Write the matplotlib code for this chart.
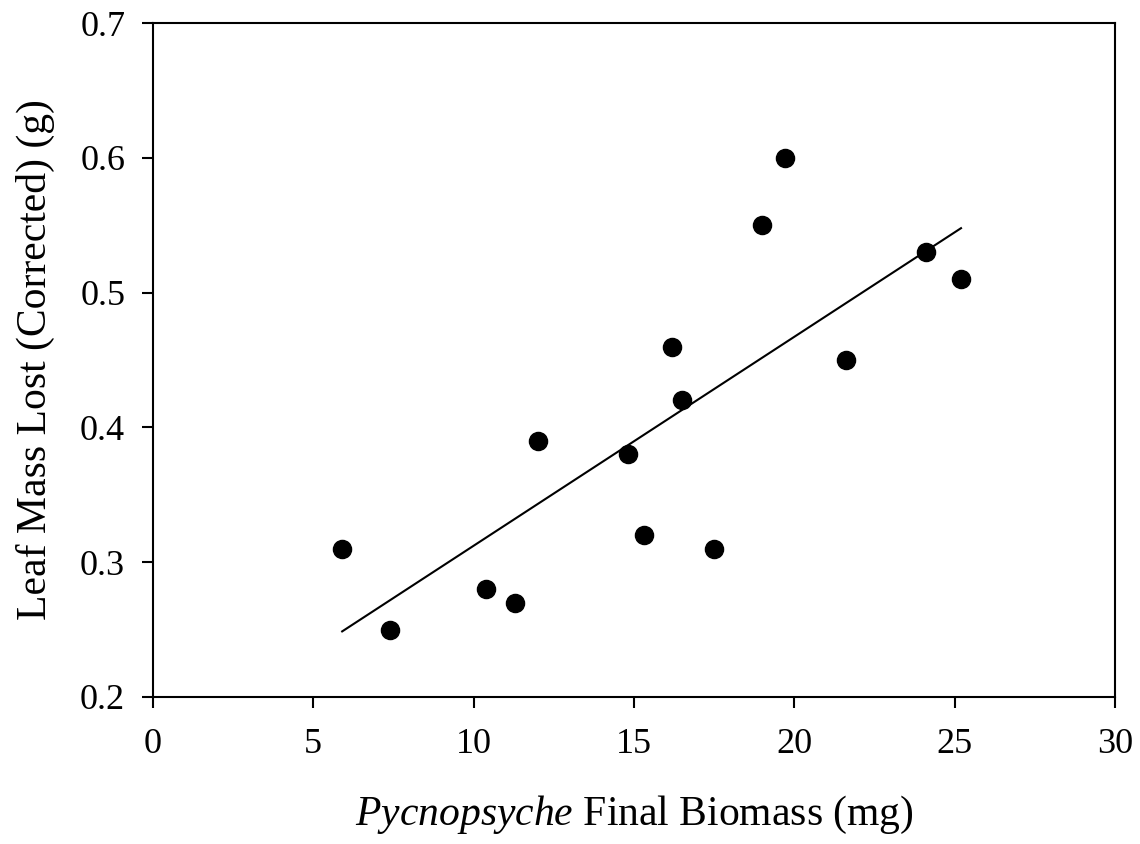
import numpy as np
import matplotlib.pyplot as plt

plt.rcParams['font.family'] = ['Liberation Serif', 'DejaVu Serif']
plt.rcParams['mathtext.fontset'] = 'custom'
plt.rcParams['mathtext.it'] = 'Liberation Serif:italic'

# values
biomass = [5.9, 7.4, 10.4, 11.3, 12.0, 14.8, 15.3, 16.2, 16.5, 17.5, 19.0, 19.7, 21.6, 24.1, 25.2]
leaf_lost = [0.31, 0.25, 0.28, 0.27, 0.39, 0.38, 0.32, 0.46, 0.42, 0.31, 0.55, 0.60, 0.45, 0.53, 0.51]

x_ticks = [0, 5, 10, 15, 20, 25, 30]
y_ticks = [0.2, 0.3, 0.4, 0.5, 0.6, 0.7]

# least-squares line over the range of the data
slope, intercept = np.polyfit(biomass, leaf_lost, 1)

fig = plt.figure(figsize=(11.4, 8.44), dpi=100)
ax = fig.add_axes([0.1342, 0.1742, 0.978 - 0.1342, 0.9727 - 0.1742])

ax.scatter(biomass, leaf_lost, s=170, color='black', zorder=3)
xl = np.array([min(biomass), max(biomass)])
ax.plot(xl, slope * xl + intercept, color='black', lw=1.5)

ax.set_xlim(0, 30)
ax.set_ylim(0.2, 0.7)
ax.set_xticks(x_ticks)
ax.set_yticks(y_ticks)
ax.set_xticklabels([str(t) for t in x_ticks])
ax.set_yticklabels([f'{t:.1f}' for t in y_ticks])
ax.tick_params(direction='out', length=8, width=1.5, labelsize=26)
ax.tick_params(axis='x', pad=14)
ax.tick_params(axis='y', pad=12)
for sp in ax.spines.values():
    sp.set_linewidth(1.5)

ax.set_xlabel(r'$\mathit{Pycnopsyche}$ Final Biomass (mg)', fontsize=30, labelpad=24)
ax.set_ylabel('Leaf Mass Lost (Corrected) (g)', fontsize=30, labelpad=18)

fig.savefig('out.png', dpi=100)
